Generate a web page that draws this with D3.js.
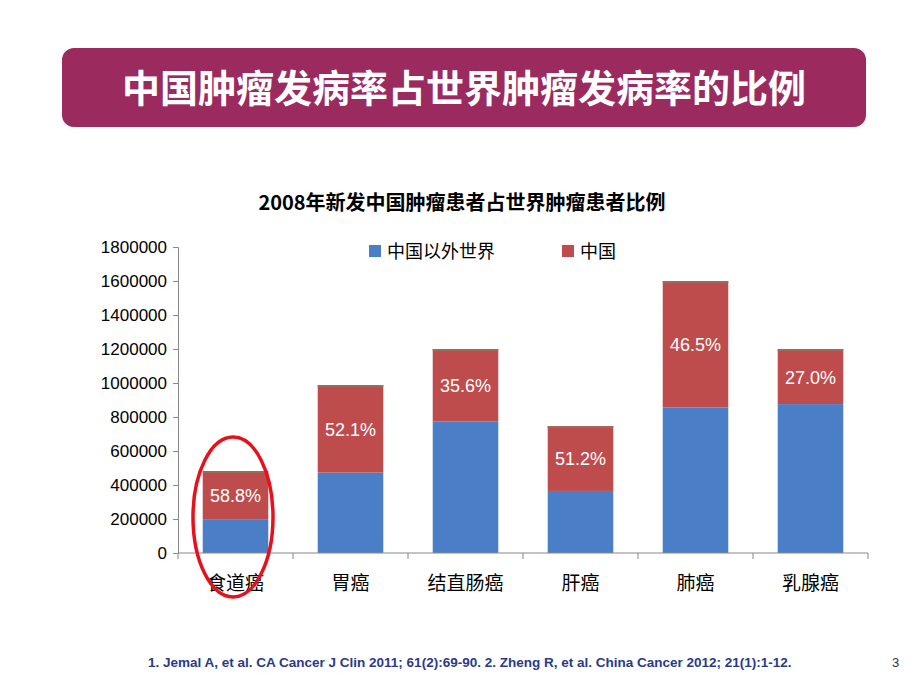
<!DOCTYPE html>
<html><head><meta charset="utf-8">
<script src="https://cdn.jsdelivr.net/npm/d3@7"></script>
<style>body{margin:0;background:#fff}svg{font-family:"Liberation Sans","Noto Sans CJK SC",sans-serif}</style>
</head><body><svg id="c" width="920" height="690"></svg>
<script>
const categories = ["食道癌","胃癌","结直肠癌","肝癌","肺癌","乳腺癌"];
const otherWorld = [199000, 473000, 773000, 365000, 856000, 876000];
const china = [283000, 515000, 427000, 382000, 744000, 324000];
const pctLabels = ["58.8%","52.1%","35.6%","51.2%","46.5%","27.0%"];
const yTicks = [0,200000,400000,600000,800000,1000000,1200000,1400000,1600000,1800000];

const svg = d3.select("#c");
const pLeft = 178, pRight = 868, pTop = 247, pBottom = 553;

svg.append("rect").attr("x",62).attr("y",48).attr("width",804).attr("height",79)
  .attr("rx",12).attr("fill","#9b2a5f");
svg.append("text").attr("x",464).attr("y",102).attr("text-anchor","middle")
  .attr("fill","#fff").attr("font-size",38).attr("font-weight","bold")
  .attr("font-family","Noto Sans CJK SC").text("中国肿瘤发病率占世界肿瘤发病率的比例");

svg.append("text").attr("x",462).attr("y",210).attr("text-anchor","middle")
  .attr("font-size",20).attr("font-weight","bold").attr("font-family","Noto Sans CJK SC")
  .text("2008年新发中国肿瘤患者占世界肿瘤患者比例");

const x = d3.scaleBand().domain(categories).range([pLeft,pRight]).paddingInner(0.43).paddingOuter(0.215);
const y = d3.scaleLinear().domain([0,1800000]).range([pBottom,pTop]);

const g = svg.append("g");
categories.forEach((c,i)=>{
  g.append("rect").attr("x",x(c)).attr("width",x.bandwidth())
    .attr("y",y(otherWorld[i])).attr("height",pBottom-y(otherWorld[i])).attr("fill","#4a7ec6");
  const t = otherWorld[i]+china[i];
  g.append("rect").attr("x",x(c)).attr("width",x.bandwidth())
    .attr("y",y(t)).attr("height",y(otherWorld[i])-y(t)).attr("fill","#bf4c4c");
  g.append("rect").attr("x",x(c)).attr("width",x.bandwidth()).attr("y",y(t)).attr("height",2).attr("fill","#a06a5a");
  g.append("text").attr("x",x(c)+x.bandwidth()/2).attr("y",y(t)+(y(otherWorld[i])-y(t))/2+7)
    .attr("text-anchor","middle").attr("fill","#fff").attr("font-size",18).text(pctLabels[i]);
});

const ya = svg.append("g").attr("transform",`translate(${pLeft},0)`)
  .call(d3.axisLeft(y).tickValues(yTicks).tickFormat(d3.format("d")).tickSize(5).tickPadding(6));
ya.selectAll("text").attr("font-size",17).attr("fill","#000");
ya.selectAll("line,path").attr("stroke","#888");

const xa = svg.append("g").attr("transform",`translate(0,${pBottom})`);
xa.append("line").attr("x1",pLeft).attr("x2",pRight).attr("stroke","#888");
const step = (pRight-pLeft)/categories.length;
d3.range(categories.length+1).forEach(k=>xa.append("line").attr("x1",pLeft+k*step).attr("x2",pLeft+k*step).attr("y2",6).attr("stroke","#888"));
categories.forEach(c=>xa.append("text").attr("x",x(c)+x.bandwidth()/2).attr("y",37)
  .attr("text-anchor","middle").attr("font-size",19).attr("font-family","Noto Sans CJK SC").text(c));

const leg = [["中国以外世界","#4a7ec6",375],["中国","#bf4c4c",568]];
leg.forEach(([t,col,lx])=>{
  svg.append("rect").attr("x",lx-6).attr("y",245).attr("width",12).attr("height",12).attr("fill",col);
  svg.append("text").attr("x",lx+12).attr("y",258).attr("font-size",18).attr("font-family","Noto Sans CJK SC").text(t);
});

svg.append("ellipse").attr("cx",233).attr("cy",517).attr("rx",40).attr("ry",80)
  .attr("fill","none").attr("stroke","#e8101a").attr("stroke-width",3.5);

svg.append("text").attr("x",148).attr("y",667).attr("font-size",13.5).attr("font-weight","bold").attr("fill","#2a3a8a")
  .text("1. Jemal A, et al. CA Cancer J Clin 2011; 61(2):69-90.  2. Zheng R, et al. China Cancer 2012; 21(1):1-12.");
svg.append("text").attr("x",892).attr("y",667).attr("font-size",13).attr("fill","#333").text("3");
</script></body></html>
